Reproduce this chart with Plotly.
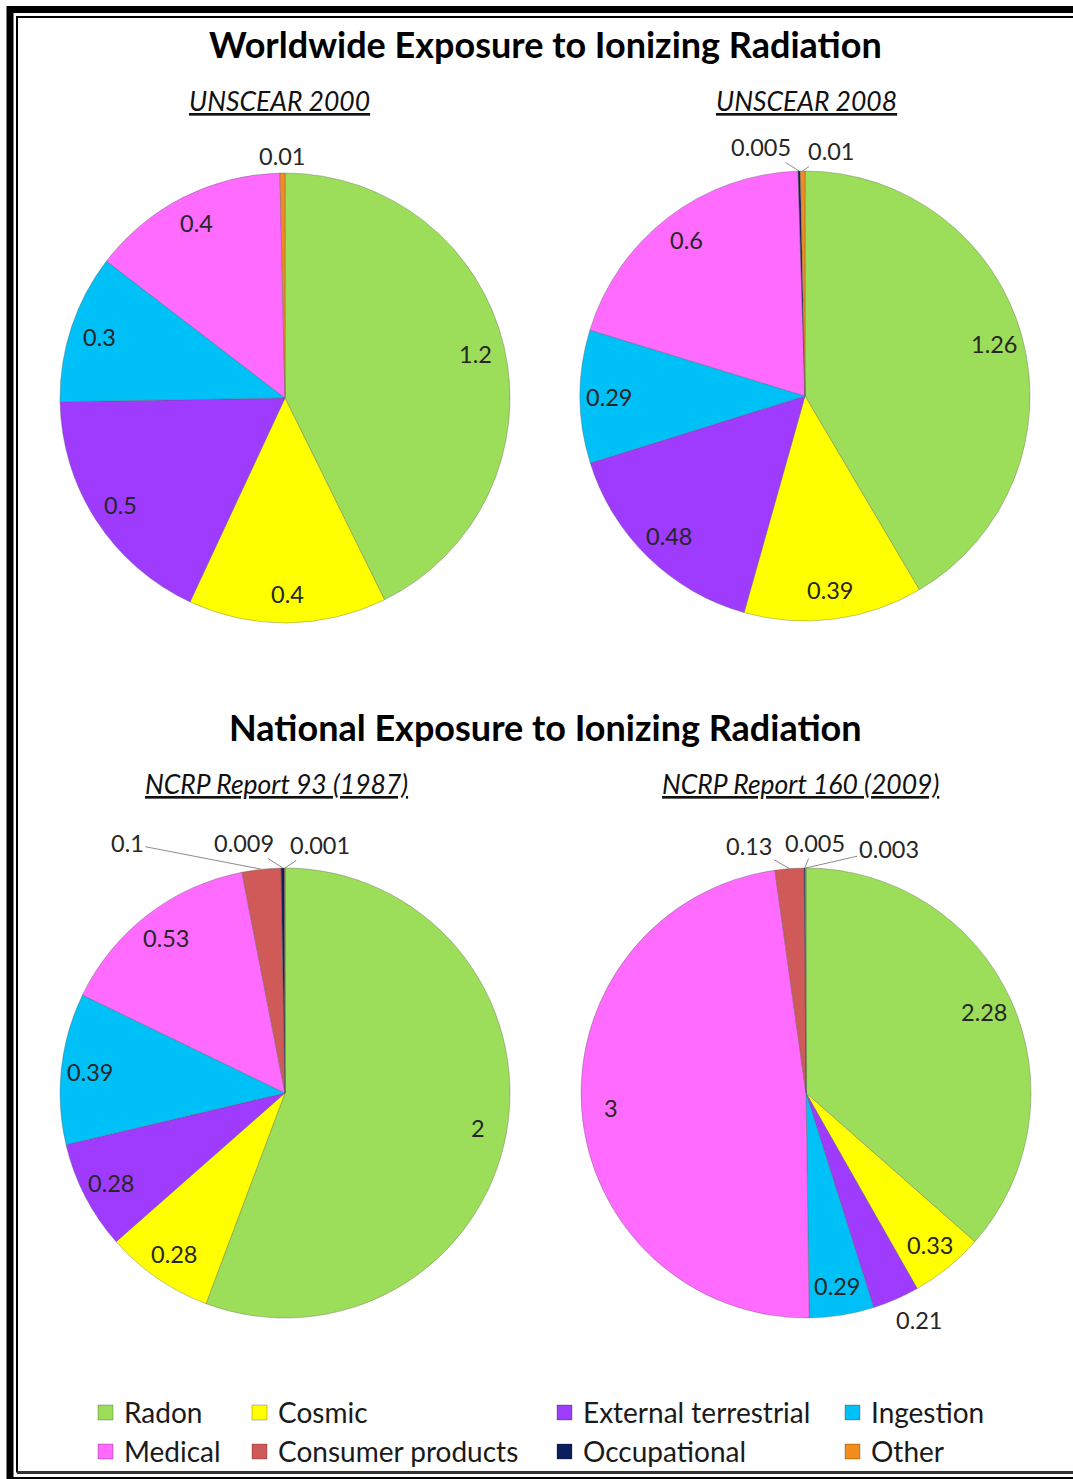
import math
import plotly.graph_objects as go

W, H = 1073, 1479

# ---------------- data ----------------
categories = ["Radon", "Cosmic", "External terrestrial", "Ingestion",
              "Medical", "Consumer products", "Occupational", "Other"]
colors = {"Radon": "#9CDD5A", "Cosmic": "#FFFF00", "External terrestrial": "#9F3BFF",
          "Ingestion": "#00C0F8", "Medical": "#FF6AFF", "Consumer products": "#CF5A57",
          "Occupational": "#0B1F5E", "Other": "#F28C1A"}

unscear2000_labels = ["Radon", "Cosmic", "External terrestrial", "Ingestion", "Medical", "Other"]
unscear2000_values = [1.2, 0.4, 0.5, 0.3, 0.4, 0.01]

unscear2008_labels = ["Radon", "Cosmic", "External terrestrial", "Ingestion", "Medical", "Occupational", "Other"]
unscear2008_values = [1.26, 0.39, 0.48, 0.29, 0.6, 0.005, 0.01]

ncrp93_labels = ["Radon", "Cosmic", "External terrestrial", "Ingestion", "Medical",
                 "Consumer products", "Occupational", "Other"]
ncrp93_values = [2, 0.28, 0.28, 0.39, 0.53, 0.1, 0.009, 0.001]

ncrp160_labels = ["Radon", "Cosmic", "External terrestrial", "Ingestion", "Medical",
                  "Consumer products", "Occupational", "Other"]
ncrp160_values = [2.28, 0.33, 0.21, 0.29, 3, 0.13, 0.005, 0.003]

value_text = {  # displayed label text (as printed)
    "unscear2000": ["1.2", "0.4", "0.5", "0.3", "0.4", "0.01"],
    "unscear2008": ["1.26", "0.39", "0.48", "0.29", "0.6", "0.005", "0.01"],
    "ncrp93": ["2", "0.28", "0.28", "0.39", "0.53", "0.1", "0.009", "0.001"],
    "ncrp160": ["2.28", "0.33", "0.21", "0.29", "3", "0.13", "0.005", "0.003"],
}

# ---------------- layout settings ----------------
FONT = "Lato, 'Open Sans', sans-serif"
R = 225
pies = [
    dict(key="unscear2000", title="UNSCEAR 2000", labels=unscear2000_labels,
         values=unscear2000_values, c=(285, 398), tpos=(280, 101)),
    dict(key="unscear2008", title="UNSCEAR 2008", labels=unscear2008_labels,
         values=unscear2008_values, c=(805, 396), tpos=(806, 101)),
    dict(key="ncrp93", title="NCRP Report 93 (1987)", labels=ncrp93_labels,
         values=ncrp93_values, c=(285, 1093), tpos=(276, 784)),
    dict(key="ncrp160", title="NCRP Report 160 (2009)", labels=ncrp160_labels,
         values=ncrp160_values, c=(806, 1093), tpos=(800, 784)),
]
# outside labels: (pie key, slice index) -> (dx, dy offset in px from slice edge, leader line?)
outside = {
    ("unscear2000", 5): (0, -17, False),
    ("unscear2008", 5): (-38, -24, True),
    ("unscear2008", 6): (28, -20, True),
    ("ncrp93", 5): (-134, -26, True),
    ("ncrp93", 6): (-39, -25, True),
    ("ncrp93", 7): (35, -23, True),
    ("ncrp160", 2): (23, 21, False),
    ("ncrp160", 5): (-40, -23, True),
    ("ncrp160", 6): (10, -25, True),
    ("ncrp160", 7): (83, -19, True),
}


def px(x):
    return x / W


def py(y):
    return 1 - y / H


fig = go.Figure()
annotations = []
shapes = []

for p in pies:
    cx, cy = p["c"]
    fig.add_trace(go.Pie(
        labels=p["labels"], values=p["values"], sort=False, direction="clockwise",
        rotation=0, textinfo="none", hoverinfo="label+value", showlegend=False,
        marker=dict(colors=[colors[l] for l in p["labels"]],
                    line=dict(color="rgba(90,90,90,0.35)", width=1)),
        domain=dict(x=[px(cx - R), px(cx + R)], y=[py(cy + R), py(cy - R)]),
    ))
    # slice labels positioned from the data
    total = sum(p["values"])
    cum = 0
    for i, v in enumerate(p["values"]):
        mid = (cum + v / 2) / total * 2 * math.pi
        cum += v
        txt = value_text[p["key"]][i]
        key = (p["key"], i)
        if key in outside:
            dx, dy, line = outside[key]
            ex = cx + R * math.sin(mid)
            ey = cy - R * math.cos(mid)
            annotations.append(dict(
                x=px(ex), y=py(ey), xref="paper", yref="paper", text=txt,
                showarrow=True, ax=dx, ay=dy, arrowhead=0, arrowwidth=1, standoff=0,
                arrowcolor="#8c8c8c" if line else "rgba(0,0,0,0)",
                font=dict(family=FONT, size=23.5, color="#262626")))
        else:
            d = 0.87 * R
            lx = cx + d * math.sin(mid)
            ly = cy - d * math.cos(mid)
            annotations.append(dict(
                x=px(lx), y=py(ly), xref="paper", yref="paper", text=txt,
                showarrow=False, xanchor="center", yanchor="middle",
                font=dict(family=FONT, size=23.5, color="#262626")))
    # subtitle
    tx, ty = p["tpos"]
    annotations.append(dict(
        x=px(tx), y=py(ty), xref="paper", yref="paper",
        text="<i><u>" + p["title"] + "</u></i>", showarrow=False,
        xanchor="center", yanchor="middle",
        font=dict(family=FONT, size=26.5, color="#111111")))

# main titles
for text, y in [("Worldwide Exposure to Ionizing Radiation", 44),
                ("National Exposure to Ionizing Radiation", 727)]:
    annotations.append(dict(
        x=px(545), y=py(y), xref="paper", yref="paper", text="<b>" + text + "</b>",
        showarrow=False, xanchor="center", yanchor="middle",
        font=dict(family=FONT, size=36, color="#000000")))

# manual legend (4 columns x 2 rows)
legend_cols = [98, 252, 557, 845]
legend_rows = [1412, 1451]
for k, cat in enumerate(categories):
    row, col = divmod(k, 4)
    x0 = legend_cols[col]
    yc = legend_rows[row]
    shapes.append(dict(type="rect", xref="paper", yref="paper",
                       x0=px(x0), x1=px(x0 + 15), y0=py(yc + 8), y1=py(yc - 7),
                       fillcolor=colors[cat], line=dict(color="rgba(0,0,0,0.25)", width=1)))
    annotations.append(dict(
        x=px(x0 + 24), y=py(yc), xref="paper", yref="paper", text=cat,
        showarrow=False, xanchor="left", yanchor="middle",
        font=dict(family=FONT, size=28, color="#1a1a1a")))

# double frame
shapes += [
    dict(type="path", xref="paper", yref="paper",
         path=f"M {px(10)} {py(1500)} L {px(10)} {py(9.5)} L {px(1090)} {py(9.5)}",
         line=dict(color="black", width=7)),
    dict(type="line", xref="paper", yref="paper", x0=px(10), x1=px(1090),
         y0=py(1478.5), y1=py(1478.5), line=dict(color="black", width=3)),
    dict(type="path", xref="paper", yref="paper",
         path=f"M {px(17)} {py(1472.5)} L {px(17)} {py(17)} L {px(1090)} {py(17)}",
         line=dict(color="black", width=2)),
    dict(type="line", xref="paper", yref="paper", x0=px(17), x1=px(1090),
         y0=py(1472.5), y1=py(1472.5), line=dict(color="#333333", width=3)),
]

fig.update_layout(
    width=W, height=H, margin=dict(l=0, r=0, t=0, b=0),
    paper_bgcolor="white", plot_bgcolor="white",
    annotations=annotations, shapes=shapes,
)

fig.write_html("out.html")
